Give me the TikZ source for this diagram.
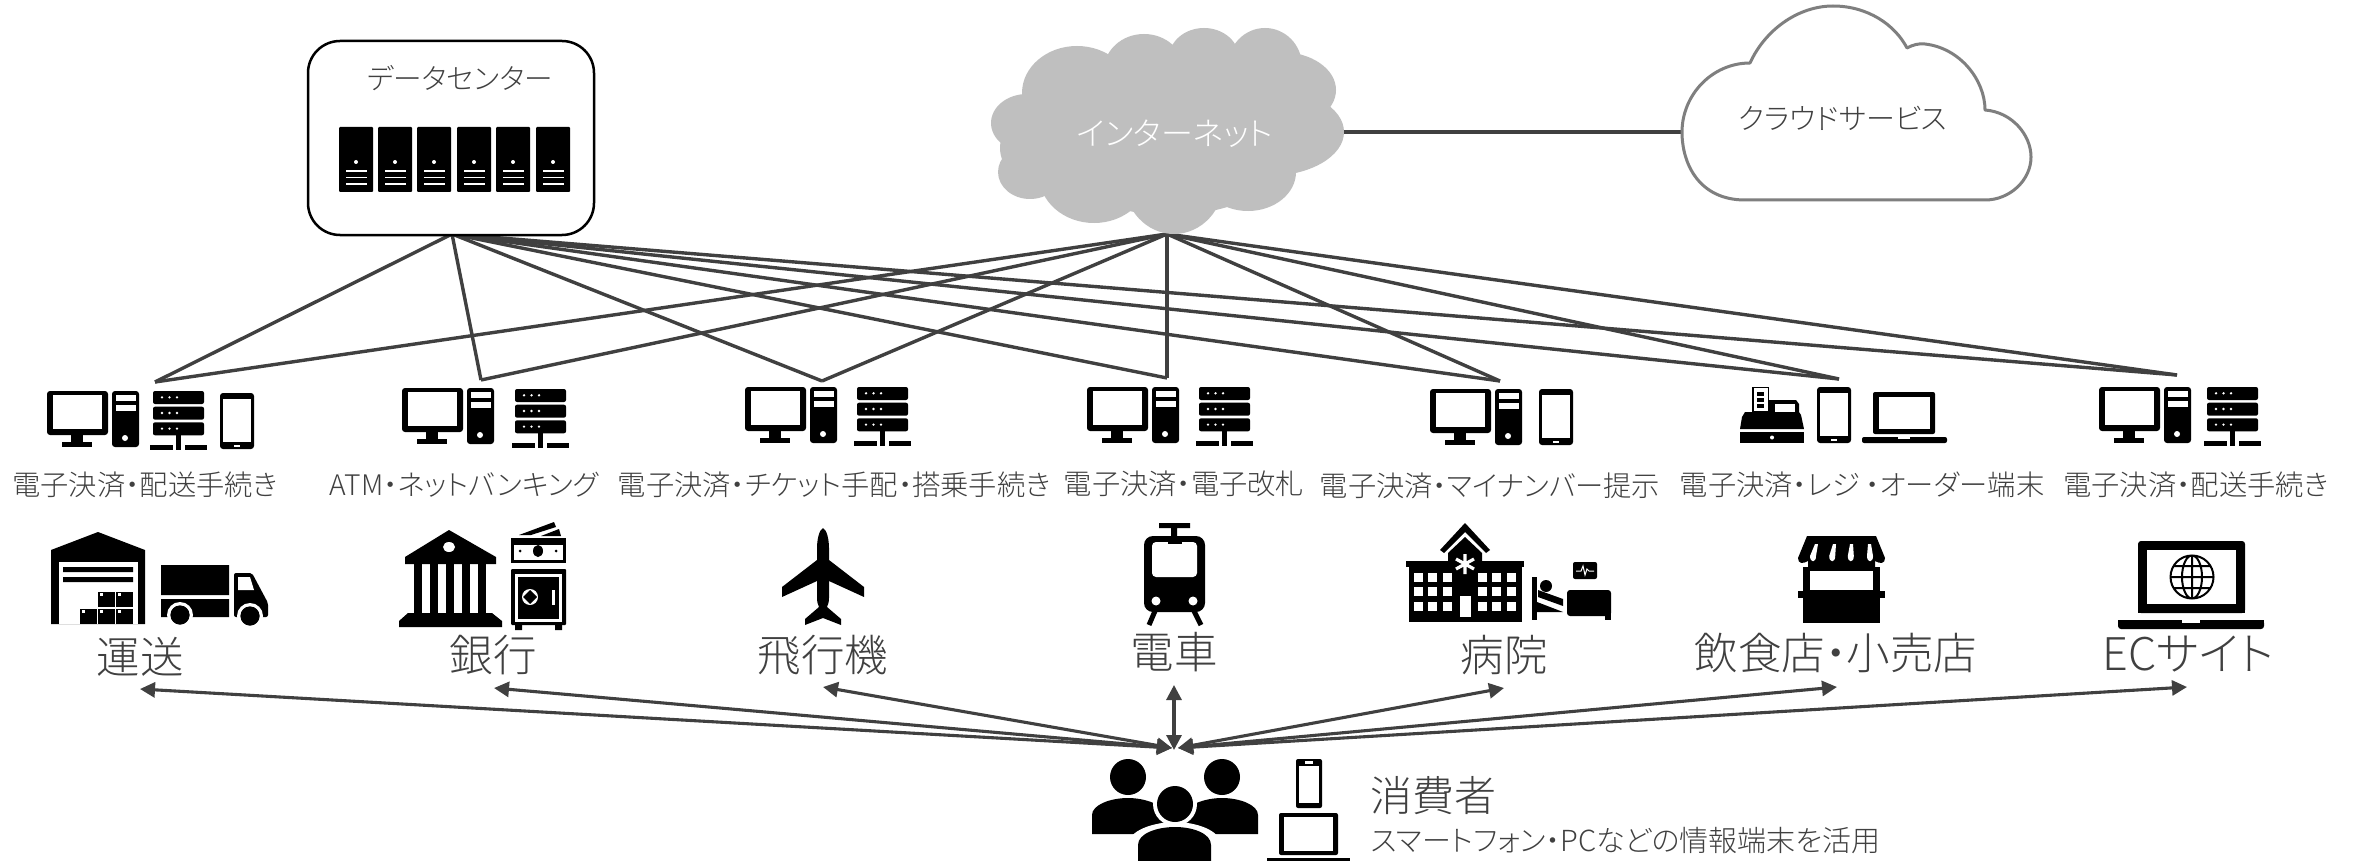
\documentclass[tikz,border=0pt]{standalone}
\usepackage{fontspec}
\usetikzlibrary{arrows.meta}
\newfontfamily\jpf[RawFeature=+palt]{Noto Sans CJK JP Light}
\definecolor{ln}{HTML}{404040}
\definecolor{cgray}{HTML}{BFBFBF}
\definecolor{cedge}{HTML}{7F7F7F}
\tikzset{
 x=1pt,y=-1pt,
 txt/.style={text=ln,inner sep=0pt,font=\jpf},
 rowlabel/.style={txt,font=\jpf\fontsize{28.3}{30}\selectfont},
 biglabel/.style={txt,font=\jpf\fontsize{43.5}{48}\selectfont},
 conn/.style={draw=ln,line width=3.4pt},
 arr/.style={draw=ln,line width=3.1pt,{Triangle[length=15pt,width=15pt]}-{Triangle[length=15pt,width=15pt]}},
 pcicon/.pic={
  \fill[rounded corners=3pt] (0,0) rectangle (61,44);
  \fill[white] (6,4) rectangle (55,38);
  \fill (24,44) rectangle (36,52);
  \fill (15,51) rectangle (45,56);
  \fill[rounded corners=3pt] (65,0) rectangle (92,56);
  \fill[white] (68.5,4) rectangle (89,10.3);
  \fill[white] (68.5,14) rectangle (89,20);
  \fill[white] (78,47) circle (3);
 },
 servericon/.pic={
  \foreach \yy in {0,15.7,31.3}{
   \fill[rounded corners=2pt] (3,\yy) rectangle (54,\yy+13);
   \foreach \xx in {12,19.5,27} \fill[white] (\xx,\yy+6.3) circle (1.3);
  }
  \fill (25.5,44) rectangle (31,54);
  \fill (0,54) rectangle (22.5,59);
  \fill (26,54) rectangle (31,59);
  \fill (34.7,54) rectangle (57,59);
 },
 phoneicon/.pic={
  \fill[rounded corners=3pt] (0,0) rectangle (34,56);
  \fill[white] (3,6) rectangle (31,49);
  \fill[white] (14,52) rectangle (20,54);
 },
 laptopicon/.pic={
  \fill[rounded corners=2pt] (11,0) rectangle (73,42);
  \fill[white] (17,5) rectangle (68,37);
  \fill[rounded corners=2pt] (0,45) rectangle (85,51);
  \fill[white] (36,45) rectangle (48,47);
 },
 registericon/.pic={
  \fill (12,0) rectangle (29,26);
  \fill[white] (13.5,1) rectangle (27.5,24);
  \foreach \yy in {5,11,17} \fill (17,\yy) rectangle (24,\yy+4);
  \fill (5,25) -- (29,25) -- (29,13) -- (56,13) -- (59,17) -- (59,25) -- (61,28) -- (64,42) -- (0,42) -- (2,30) -- cycle;
  \fill[white] (35,17) rectangle (55,25);
  \fill (0,45) rectangle (64,56);
  \fill[white] (32,50.5) circle (2);
 },
 bladeicon/.pic={
  \fill[rounded corners=1pt] (0,0) rectangle (34,65);
  \fill[white] (17,35) circle (2);
  \foreach \yy in {44,50.5,57} \fill[white] (7,\yy-0.7) rectangle (28,\yy+0.7);
 }
}
\begin{document}
\begin{tikzpicture}
\useasboundingbox (0,0) rectangle (2357,861);
\fill[white] (0,0) rectangle (2357,861);

% named anchor points
\coordinate (dc) at (452,234);
\coordinate (net) at (1167,234);
\coordinate (t1) at (155,382);
\coordinate (t2) at (481,380);
\coordinate (t3) at (822,381);
\coordinate (t4) at (1167,378);
\coordinate (t5) at (1500,381);
\coordinate (t6) at (1839,379);
\coordinate (t7) at (2177,375);
\coordinate (netR) at (1340,132);
\coordinate (cloudL) at (1682,132);
\coordinate (hubL) at (1172,748);
\coordinate (hubR) at (1178,748);
\coordinate (hubT) at (1174,750);
\coordinate (a1) at (140,689);
\coordinate (a2) at (494,688);
\coordinate (a3) at (823,687);
\coordinate (a4) at (1174,685);
\coordinate (a5) at (1504,688);
\coordinate (a6) at (1837,687);
\coordinate (a7) at (2187,687);

% connectors
\foreach \t in {t1,t2,t3,t4,t5,t6,t7}{
 \draw[conn] (dc) -- (\t);
 \draw[conn] (net) -- (\t);
}
\draw[draw=ln,line width=3.8pt] (netR) -- (cloudL);
\foreach \a in {a1,a2,a3} \draw[arr] (hubL) -- (\a);
\draw[arr] (hubT) -- (a4);
\foreach \a in {a5,a6,a7} \draw[arr] (hubR) -- (\a);

% data centre
\node[draw=black,line width=2.5pt,fill=white,rounded corners=32pt,minimum width=286pt,minimum height=194pt,inner sep=0pt] (dcbox) at (451,138) {};
\node[txt,font=\jpf\fontsize{28.6}{30}\selectfont] (dctext) at (460,78) {データセンター};
\foreach \xx in {339,378,417,457,496,536} \pic at (\xx,127) {bladeicon};

% internet cloud
\fill[cgray] (1077,93) ellipse [x radius=55,y radius=47]
 (1144,70) ellipse [x radius=40,y radius=36]
 (1204,58) ellipse [x radius=35,y radius=30]
 (1265,66) ellipse [x radius=37,y radius=38]
 (1281,90) ellipse [x radius=55,y radius=38]
 (1268,132) ellipse [x radius=76,y radius=44]
 (1248,172) ellipse [x radius=48,y radius=39]
 (1174,180) ellipse [x radius=50,y radius=54]
 (1094,175) ellipse [x radius=55,y radius=48]
 (1030,172) ellipse [x radius=32,y radius=27]
 (1027,123) ellipse [x radius=36,y radius=29]
 (1050,148) ellipse [x radius=50,y radius=40]
 (1170,130) ellipse [x radius=135,y radius=85];
\node[txt,text=white,font=\jpf\fontsize{32}{36}\selectfont] (nettext) at (1175,134) {インターネット};

% cloud service
\draw[draw=cedge,line width=3pt,fill=white,line join=round] (1745,200)
 .. controls (1700,200) and (1682,165) .. (1682,132)
 .. controls (1682,95) and (1712,63) .. (1750,63)
 .. controls (1765,30) and (1798,6) .. (1833,6)
 .. controls (1868,6) and (1895,25) .. (1907,48)
 .. controls (1912,45) and (1920,43) .. (1925,44)
 .. controls (1960,48) and (1985,80) .. (1985,110)
 .. controls (2012,112) and (2031,135) .. (2031,157)
 .. controls (2031,180) and (2010,200) .. (1985,200) -- cycle;
\node[txt,font=\jpf\fontsize{29}{30}\selectfont] (cloudtext) at (1843,118) {クラウドサービス};

% device icons
\pic at (47,391) {pcicon}; \pic at (150,391) {servericon}; \pic at (220,393) {phoneicon};
\pic at (402,388) {pcicon}; \pic at (512,389) {servericon};
\pic at (745,387) {pcicon}; \pic at (854,387) {servericon};
\pic at (1087,387) {pcicon}; \pic at (1196,387) {servericon};
\pic at (1430,389) {pcicon}; \pic at (1539,389) {phoneicon};
\pic at (1740,387) {registericon}; \pic at (1817,387) {phoneicon}; \pic at (1862,392) {laptopicon};
\pic at (2099,387) {pcicon}; \pic at (2204,387) {servericon};

% row labels
\node[rowlabel] (l1) at (145,485) {電子決済・配送手続き};
\node[rowlabel] (l2) at (464,485) {ATM・ネットバンキング};
\node[rowlabel] (l3) at (834,485) {電子決済・チケット手配・搭乗手続き};
\node[rowlabel] (l4) at (1184,484) {電子決済・電子改札};
\node[rowlabel] (l5) at (1490,486) {電子決済・マイナンバー提示};
\node[rowlabel] (l6) at (1862,485) {電子決済・レジ ・オーダー端末};
\node[rowlabel] (l7) at (2196,485) {電子決済・配送手続き};

% warehouse
\fill (51,550) -- (98,532) -- (145,550) -- (145,624) -- (51,624) -- cycle;
\fill[white] (59,562) rectangle (138,624);
\fill (63,567) rectangle (133,572) (63,577) rectangle (133,582);
\foreach \xx/\yy in {98/592,116/592,80/609,98/609,116/609}{
 \fill (\xx,\yy) rectangle (\xx+17,\yy+15);
 \fill[white] (\xx+2,\yy+1) rectangle (\xx+5,\yy+4);
}
% truck
\fill (161,565) rectangle (229,595) (161,599) rectangle (229,617);
\fill[rounded corners=2pt] (234,573) -- (252,573) -- (268,603) -- (268,617) -- (234,617) -- cycle;
\fill[white] (238,577) -- (250,577) -- (254,590) -- (238,590) -- cycle;
\fill[white] (180,615) circle (13) (250,616) circle (13);
\fill (180,615) circle (9.5) (250,616) circle (9.5);
\fill[white] (160,618) rectangle (169,626) (191,618) rectangle (232,626);
\fill (180,615) circle (9.5) (250,616) circle (9.5);

% bank
\fill (449,530) -- (496,557) -- (496,564) -- (405,564) -- (405,557) -- cycle;
\fill[white] (449,547) ellipse [x radius=6,y radius=5];
\foreach \xx in {414,430,446,462,478} \fill (\xx,564) rectangle (\xx+8,613);
\fill (408,613) -- (492,613) -- (502,621) -- (502,627) -- (399,627) -- (399,621) -- cycle;
% cash and safe
\fill (519,535) -- (554,522) -- (556,527) -- (531,535) -- cycle;
\fill (541,536) -- (559,529) -- (561,536) -- cycle;
\fill (511,538) rectangle (566,563);
\fill[white] (514,545) rectangle (563,560);
\fill (538,551) ellipse [x radius=5,y radius=6];
\fill (520,551) circle (1.5) (556,551) circle (1.5);
\fill[rounded corners=1pt] (511,569) rectangle (566,625);
\fill[white] (515,574) rectangle (562,622);
\fill (518,577) rectangle (559,619);
\fill (515,625) rectangle (522,630) (555,625) rectangle (562,630);
\fill[white] (530,597) circle (8);
\fill (530,590) -- (537,597) -- (530,604) -- (523,597) -- cycle;
\fill[white] (552,590) rectangle (555,605);

% plane
\fill (823,528) .. controls (827,530) and (829,540) .. (829,548) -- (829,560) -- (864,587) -- (864,597) -- (829,581) -- (829,598) .. controls (829,602) and (828,605) .. (827,607) -- (841,619) -- (841,625) -- (823,618) -- (805,625) -- (805,619) -- (819,607) .. controls (818,605) and (817,602) .. (817,598) -- (817,581) -- (782,597) -- (782,587) -- (817,560) -- (817,548) .. controls (817,540) and (819,530) .. (823,528) -- cycle;

% train
\fill (1159,523) rectangle (1190,528) (1171,528) rectangle (1177,538);
\fill[rounded corners=9pt] (1144,536) rectangle (1205,612);
\fill[white,rounded corners=4pt] (1152,542) rectangle (1197,577);
\fill (1168,541) rectangle (1182,544);
\fill[white] (1156,601) circle (4.5) (1193,601) circle (4.5);
\draw[line width=5pt] (1155,611) -- (1149,625) (1194,611) -- (1201,625);

% hospital
\fill (1465,523) -- (1490,550) -- (1486,553) -- (1465,532) -- (1444,553) -- (1440,550) -- cycle;
\fill (1465,537) -- (1482,553) -- (1482,562) -- (1448,562) -- (1448,553) -- cycle;
\fill (1406,561) rectangle (1524,567);
\fill (1409,567) rectangle (1522,622);
\draw[white,line width=3.2pt] (1465,554) -- (1465,574) (1456,559) -- (1474,569) (1456,569) -- (1474,559);
\foreach \yy in {573,587,602}
 \foreach \xx in {1414,1428,1443,1478,1492,1507}
  \fill[white] (\xx,\yy) rectangle (\xx+9,\yy+9);
\fill[white] (1460,596) rectangle (1471,617);
% bed
\fill (1532,577) rectangle (1537,620);
\fill (1546,586) circle (6);
\fill (1538,590) -- (1563,599) -- (1563,606) -- (1538,597) -- cycle;
\fill (1537,602) -- (1563,612) -- (1537,612) -- cycle;
\fill[rounded corners=3pt] (1567,590) rectangle (1611,616);
\fill (1605,610) rectangle (1611,620);
\fill[rounded corners=2pt] (1573,562) rectangle (1597,579);
\draw[white,line width=1pt] (1576,571) -- (1581,571) -- (1583,566) -- (1585,575) -- (1587,569) -- (1589,571) -- (1594,571);

% shop
\fill (1807,536) -- (1876,536) -- (1885,558) .. controls (1885,564) and (1880,564) .. (1875,561) -- (1875,598) -- (1808,598) -- (1808,561) .. controls (1803,564) and (1798,564) .. (1798,558) -- cycle;
\foreach \xx/\s in {1815/-1,1833/-0.4,1850/0.4,1868/1}
 \fill[white] (\xx,544) -- (\xx+3,544) -- (\xx+3+\s*2,556) .. controls (\xx+3+\s*2,563) and (\xx+\s*2-3,563) .. (\xx+\s*2-3,556) -- cycle;
\fill (1803,567) rectangle (1880,623);
\fill[white] (1810,571) rectangle (1873,590);
\fill (1798,591) rectangle (1885,598);

% EC laptop
\fill[rounded corners=3pt] (2138,541) rectangle (2245,613);
\fill (2138,600) rectangle (2245,613);
\fill[white] (2147,550) rectangle (2236,604);
\draw[line width=2pt] (2192,577) circle (21.5) (2192,577) ellipse [x radius=10,y radius=21.5] (2170.5,577) -- (2213.5,577) (2192,555.5) -- (2192,598.5) (2174,566) -- (2210,566) (2174,588) -- (2210,588);
\fill[rounded corners=3pt] (2118,620) rectangle (2264,629);
\fill (2118,620) rectangle (2264,624);
\fill[white] (2182,620) rectangle (2200,623);

% big labels
\node[biglabel] (b1) at (140,657) {運送};
\node[biglabel] (b2) at (493,655) {銀行};
\node[biglabel] (b3) at (823,655) {飛行機};
\node[biglabel] (b4) at (1174,652) {電車};
\node[biglabel] (b5) at (1504,655) {病院};
\node[biglabel] (b6) at (1836,653) {飲食店・小売店};
\node[biglabel,font=\jpf\fontsize{45}{48}\selectfont] (b7) at (2188,654) {ECサイト};

% people
\fill (1128,777) ellipse [x radius=18,y radius=18];
\fill (1222,777) ellipse [x radius=18,y radius=18];
\fill (1092,834) -- (1092,815) .. controls (1092,805) and (1110,798) .. (1128,798) .. controls (1145,798) and (1165,805) .. (1165,815) -- (1165,834) -- cycle;
\fill (1258,834) -- (1258,815) .. controls (1258,805) and (1240,798) .. (1222,798) .. controls (1205,798) and (1185,805) .. (1185,815) -- (1185,834) -- cycle;
\fill[white] (1175,804) ellipse [x radius=22,y radius=22];
\fill[white] (1128,861) -- (1128,845) .. controls (1128,830) and (1155,822) .. (1175,822) .. controls (1195,822) and (1221,830) .. (1221,845) -- (1221,861) -- cycle;
\fill (1175,804) ellipse [x radius=18,y radius=18];
\fill (1138,861) -- (1138,845) .. controls (1138,833) and (1158,827) .. (1175,827) .. controls (1192,827) and (1211,833) .. (1211,845) -- (1211,861) -- cycle;
% user devices
\fill[rounded corners=2pt] (1296,759) rectangle (1322,808);
\fill[white] (1299,766) rectangle (1319,803);
\fill[white] (1305,761) rectangle (1313,764);
\fill[rounded corners=2pt] (1279,813) rectangle (1338,855);
\fill[white] (1284,817) rectangle (1333,851);
\fill (1267,858) rectangle (1350,861);

\node[txt,font=\jpf\fontsize{42}{46}\selectfont] (cons) at (1433,796) {消費者};
\node[txt,anchor=west,font=\jpf\fontsize{29}{30}\selectfont] (consub) at (1371,841) {スマートフォン・PCなどの情報端末を活用};
\end{tikzpicture}
\end{document}
